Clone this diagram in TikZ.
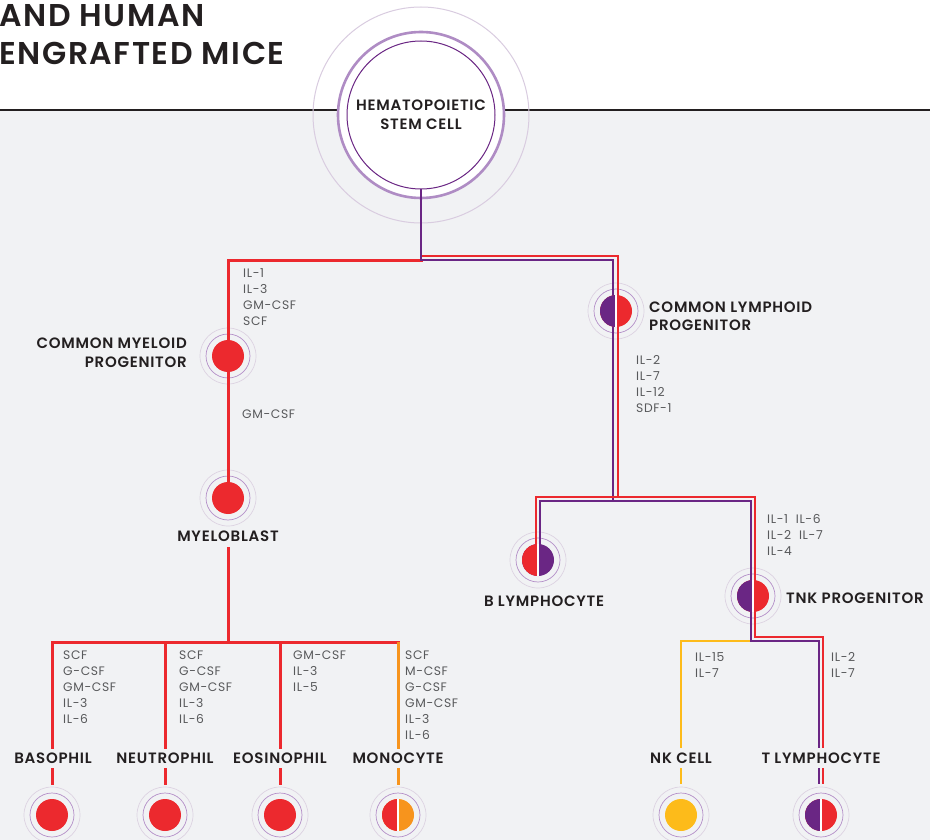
\documentclass[tikz,border=0pt]{standalone}
\usepackage{fontspec}
\setmainfont{Poppins}
\IfFontExistsTF{Poppins SemiBold}
  {\newfontfamily\labelfont{Poppins SemiBold}[LetterSpace=5]}
  {\newfontfamily\labelfont{Poppins}[FakeBold=1.6,LetterSpace=5]}
\newfontfamily\cytofont{Poppins}[LetterSpace=5]
\usepackage{tikz}
\usetikzlibrary{calc,positioning}
\definecolor{cellred}{HTML}{EC292E}
\definecolor{cellpurple}{HTML}{6A2684}
\definecolor{cellorange}{HTML}{F7941D}
\definecolor{cellyellow}{HTML}{FDBB1A}
\definecolor{ringpurple}{HTML}{B48FC8}
\definecolor{faintring}{HTML}{DDD3E2}
\definecolor{hscring}{HTML}{AF8CC4}
\definecolor{hscfaint}{HTML}{D9CCE0}
\definecolor{textgray}{HTML}{58595B}
\definecolor{textblack}{HTML}{231F20}
\definecolor{bggray}{HTML}{F1F2F4}
\pgfdeclarelayer{bg}
\pgfdeclarelayer{wires}
\pgfsetlayers{bg,wires,main}
\tikzset{%
  cell/.style={circle,fill=#1,minimum size=32pt,inner sep=0pt},
  halfcell/.style 2 args={circle,fill=#2,minimum size=32pt,inner sep=0pt,
    path picture={\fill[#1] (path picture bounding box.south west) rectangle (path picture bounding box.north);
      \draw[white,line width=1.6pt] (path picture bounding box.south) -- (path picture bounding box.north);}},
  ring/.style={draw=ringpurple,line width=0.7pt},
  faint/.style={draw=faintring,line width=0.7pt},
  wire/.style={draw=#1,line width=2.6pt,line cap=rect}%
}

\begin{document}
\begin{tikzpicture}[
    x=1pt,y=-1pt,
    lbl/.style={
        font=\labelfont\fontsize{15}{18.5}\selectfont,
        text=textblack,
        inner sep=0pt
    },
    cyto/.style={
        font=\cytofont\fontsize{12.3}{16}\selectfont,
        text=textgray,
        align=left,
        anchor=north west,
        inner sep=0pt
    },
    title/.style={
        font=\labelfont\fontsize{31.5}{37.5}\selectfont,
        text=textblack,
        anchor=west,
        inner sep=0pt
    },
    hsc/.style={
        circle,
        draw=cellpurple,
        line width=1pt,
        fill=white,
        minimum size=148pt,
        inner sep=0pt,
        align=center,
        font=\labelfont\fontsize{15}{19}\selectfont,
        text=textblack
    }
]
\useasboundingbox (0,0) rectangle (930,840);

% Background
\begin{pgfonlayer}{bg}
\fill[white] (0,0) rectangle (930,840);
\fill[bggray] (0,110) rectangle (930,840);
\draw[textblack,line width=1.1pt] (0,110) -- (930,110);
\draw[draw=hscfaint,line width=1pt] (421,115) circle[radius=108];
\draw[draw=hscring,fill=white,line width=2.6pt] (421,115) circle[radius=83];
\end{pgfonlayer}

% Title
\node[title] (title1) at (-1,16) {AND HUMAN};
\node[title] (title2) at (-1,53.5) {ENGRAFTED MICE};

% Nodes
\node[hsc] (hsc) at (421,115) {HEMATOPOIETIC\\STEM CELL};

\node[cell=cellred] (cmp) at (228,356) {};
\node[lbl,align=right,anchor=east] (lbl-cmp) at (187,352.5) {COMMON MYELOID\\PROGENITOR};
\node[cell=cellred] (myb) at (228,498) {};
\node[lbl] (lbl-myb) at (228,536) {MYELOBLAST};

\node[halfcell={cellpurple}{cellred}] (clp) at (616,311) {};
\node[lbl,align=left,anchor=west] (lbl-clp) at (649,316) {COMMON LYMPHOID\\PROGENITOR};
\node[halfcell={cellred}{cellpurple}] (bly) at (538,560) {};
\node[lbl] (lbl-bly) at (544,601) {B LYMPHOCYTE};
\node[halfcell={cellpurple}{cellred}] (tnk) at (753,596) {};
\node[lbl,anchor=west] (lbl-tnk) at (786,598) {TNK PROGENITOR};

\node[cell=cellred] (baso) at (52,815) {};
\node[cell=cellred] (neut) at (165,815) {};
\node[cell=cellred] (eos) at (280,815) {};
\node[halfcell={cellred}{cellorange}] (mono) at (398,815) {};
\node[cell=cellyellow] (nk) at (681,815) {};
\node[halfcell={cellpurple}{cellred}] (tly) at (821,815) {};

\node[lbl] (lbl-baso) at (53,758) {BASOPHIL};
\node[lbl] (lbl-neut) at (165,758) {NEUTROPHIL};
\node[lbl] (lbl-eos) at (280,758) {EOSINOPHIL};
\node[lbl] (lbl-mono) at (398,758) {MONOCYTE};
\node[lbl] (lbl-nk) at (681,758) {NK CELL};
\node[lbl] (lbl-tly) at (821,758) {T LYMPHOCYTE};

% Cytokines
\node[cyto] (cy-cmp) at (243,268) {IL-1\\IL-3\\GM-CSF\\SCF};
\node[cyto] (cy-myb) at (242,410) {GM-CSF};
\node[cyto] (cy-clp) at (636,355) {IL-2\\IL-7\\IL-12\\SDF-1};
\node[cyto] (cy-tnk) at (767,514) {IL-1\ \ IL-6\\IL-2\ \ IL-7\\IL-4};
\node[cyto] (cy-baso) at (63,651) {SCF\\G-CSF\\GM-CSF\\IL-3\\IL-6};
\node[cyto] (cy-neut) at (179,651) {SCF\\G-CSF\\GM-CSF\\IL-3\\IL-6};
\node[cyto] (cy-eos) at (293,651) {GM-CSF\\IL-3\\IL-5};
\node[cyto] (cy-mono) at (405,651) {SCF\\M-CSF\\G-CSF\\GM-CSF\\IL-3\\IL-6};
\node[cyto] (cy-nk) at (695,652) {IL-15\\IL-7};
\node[cyto] (cy-tly) at (831,652) {IL-2\\IL-7};

% Rings
\begin{pgfonlayer}{bg}
\foreach \c in {cmp,myb,clp,bly,tnk,baso,neut,eos,mono,nk,tly}{
  \draw[faint] (\c.center) circle[radius=28];
  \draw[ring] (\c.center) circle[radius=22];
}
\end{pgfonlayer}

% Connectors
\coordinate (split) at (421,260);
\coordinate (lymsplit) at (615.5,499);
\coordinate (tnksplit) at (753,639);
\coordinate (mysplit) at (228,642);

\begin{pgfonlayer}{wires}
% myeloid side
\draw[wire=cellred,line width=3pt] (split) -| (cmp.center) -- (myb.center);
\draw[wire=cellred,line width=3pt,shorten <=12] (lbl-myb.center) -- (mysplit);
\draw[wire=cellred,line width=3pt] (mysplit -| baso) -- (mysplit -| mono);
\foreach \c in {baso,neut,eos}{
  \draw[wire=cellred,line width=3pt,shorten >=11] (mysplit -| \c) -- (lbl-\c.center -| \c);
  \draw[wire=cellred,line width=3pt,shorten <=11,shorten >=32] (lbl-\c.center -| \c) -- (\c.center);
}
\draw[wire=cellorange,line width=3pt,shorten >=11] ($(mysplit -| mono)+(0,1.5)$) -- (lbl-mono.center);
\draw[wire=cellorange,line width=3pt,shorten <=11,shorten >=32] (lbl-mono.center) -- (mono.center);

% lymphoid side
\draw[wire=cellred] ($(split)+(2,-4)$) -| ($(lymsplit)+(2.5,-2)$);
\draw[wire=cellpurple] (hsc.south) -- (split) -| ($(lymsplit)+(-2.5,2)$);
\draw[wire=cellred] ($(lymsplit)+(2.5,-2)$) -| ($(bly.center)+(-2,0)$);
\draw[wire=cellred] ($(lymsplit)+(2.5,-2)$) -| ($(tnk.center)+(2,0)$);
\draw[wire=cellpurple] ($(lymsplit)+(-2.5,2)$) -| ($(bly.center)+(2,0)$);
\draw[wire=cellpurple] ($(lymsplit)+(-2.5,2)$) -| ($(tnk.center)+(-2,0)$);

\draw[wire=cellyellow,shorten >=11] ($(tnksplit)+(-2,2)$) -| (lbl-nk.center);
\draw[wire=cellyellow,shorten <=11,shorten >=32] (lbl-nk.center) -- (nk.center);
\draw[wire=cellred,shorten >=11] ($(tnk.center)+(2,0)$) |- ($(tnksplit -| tly)+(2,-2)$) -- ($(lbl-tly.center)+(2,0)$);
\draw[wire=cellpurple,shorten >=11] ($(tnk.center)+(-2,0)$) |- ($(tnksplit -| tly)+(-2,2)$) -- ($(lbl-tly.center)+(-2,0)$);
\draw[wire=cellred,shorten <=11,shorten >=32] ($(lbl-tly.center)+(2,0)$) -- ($(tly.center)+(2,0)$);
\draw[wire=cellpurple,shorten <=11,shorten >=32] ($(lbl-tly.center)+(-2,0)$) -- ($(tly.center)+(-2,0)$);
\end{pgfonlayer}

\end{tikzpicture}
\end{document}
